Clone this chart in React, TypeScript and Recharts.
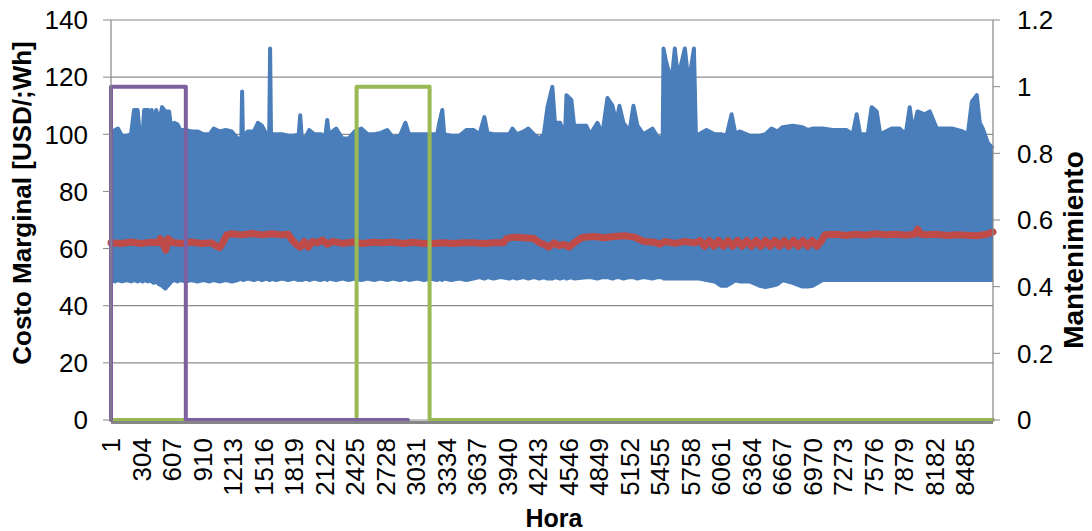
import React from 'react';
import { ComposedChart, Area, Line, XAxis, YAxis, CartesianGrid, Label, ReferenceLine } from 'recharts';

const FONT = '"Liberation Sans", Arial, sans-serif';

// x-axis tick labels (Hora)
const hourTicks = [1, 304, 607, 910, 1213, 1516, 1819, 2122, 2425, 2728, 3031, 3334, 3637, 3940, 4243, 4546, 4849, 5152, 5455, 5758, 6061, 6364, 6667, 6970, 7273, 7576, 7879, 8182, 8485];
const costTicks = [0, 20, 40, 60, 80, 100, 120, 140];
const maintTicks = [0, 0.2, 0.4, 0.6, 0.8, 1, 1.2];

// Blue series (hourly marginal cost) – envelope
const blueHours = [1, 40, 70, 110, 160, 200, 230, 265, 290, 315, 330, 370, 390, 405, 425, 450, 478, 508, 540, 578, 600, 630, 660, 690, 740, 800, 860, 920, 980, 1020, 1080, 1140, 1200, 1260, 1295, 1303, 1311, 1360, 1420, 1460, 1500, 1545, 1572, 1581, 1590, 1640, 1700, 1760, 1820, 1865, 1880, 1895, 1935, 1969, 2020, 2080, 2130, 2148, 2165, 2237, 2300, 2360, 2420, 2486, 2550, 2615, 2680, 2744, 2800, 2870, 2925, 2960, 3040, 3110, 3170, 3240, 3261, 3291, 3310, 3380, 3460, 3530, 3600, 3660, 3709, 3740, 3800, 3870, 3957, 3987, 4030, 4100, 4146, 4200, 4255, 4300, 4335, 4384, 4410, 4460, 4510, 4524, 4573, 4600, 4720, 4760, 4832, 4880, 4931, 4981, 5020, 5050, 5090, 5150, 5189, 5229, 5289, 5378, 5430, 5480, 5488, 5510, 5540, 5575, 5600, 5625, 5660, 5700, 5725, 5760, 5790, 5810, 5826, 5840, 5915, 5995, 6060, 6114, 6164, 6203, 6243, 6343, 6442, 6500, 6561, 6620, 6671, 6770, 6869, 6920, 6969, 7068, 7168, 7307, 7366, 7406, 7440, 7516, 7555, 7605, 7640, 7754, 7834, 7893, 7933, 7965, 8010, 8082, 8132, 8202, 8301, 8361, 8460, 8510, 8550, 8599, 8629, 8659, 8709, 8760];
const blueHigh = [100, 101.5, 102, 99.5, 99.5, 100, 108.5, 108.5, 99, 100, 108.5, 108.5, 101, 108.5, 103.5, 108.5, 104, 109.5, 108, 108, 102, 104, 103.5, 101.5, 101.5, 101, 101, 100, 100, 102, 101, 101.5, 101, 98.5, 98.5, 115, 99, 101, 101, 104, 103, 100, 100, 130, 100, 100, 100, 99.5, 99.5, 100, 106.7, 99, 99, 101.5, 100, 100, 99.5, 105, 100, 102, 98.5, 98.5, 101, 102, 100, 100, 100.5, 101.5, 99, 99.5, 104, 100, 100, 100, 100, 100, 104, 108.5, 100, 99.5, 99.5, 101.5, 101.5, 100, 106, 100.5, 100, 100, 100, 102, 100, 101, 102, 100, 98.5, 100, 109.5, 116.6, 104, 104, 100, 113.7, 112, 103, 103, 100, 104, 100, 112.7, 110, 104, 110, 104, 101, 110, 103, 100, 102, 99, 99, 130, 126, 122, 121, 130, 122, 124, 130, 122, 123, 130, 99, 97, 100, 101.5, 100, 100, 99.5, 107, 100, 101, 99.5, 99.5, 100, 102, 101, 102.5, 103, 102.5, 101.5, 102, 102, 101.5, 101.5, 100, 107, 100, 100, 109.5, 108, 100, 102, 102, 100, 109.5, 101, 108, 107, 108, 102, 102, 102, 101, 100, 111.4, 113.7, 104, 102, 97, 95];
const blueLow = [49, 48.5, 49, 48.5, 49, 48.5, 49, 48.5, 49, 48.5, 49, 48.5, 49, 48.5, 48, 48.5, 47.5, 47, 46, 47.5, 48.5, 49, 48.5, 49, 48.5, 49, 48.5, 49, 48.5, 49, 48.5, 49, 48.5, 49, 49.5, 49.5, 49, 49.5, 49, 49.5, 49, 49.5, 49, 49, 49.5, 49, 49.5, 49, 49.5, 49, 49.5, 49, 49.5, 49, 49.5, 49, 49.5, 49, 49.5, 49, 49.5, 49, 49.5, 49, 49.5, 49, 49.5, 49, 49.5, 49, 49.5, 49, 49.5, 49, 49.5, 49, 49.5, 49, 49.5, 49, 49.5, 49, 49.5, 50, 49.5, 50, 49.5, 50, 49.5, 50, 49.5, 50, 49.5, 50, 49.5, 50, 49.5, 49.5, 50, 49.5, 50, 49.5, 50, 49.5, 50, 50, 49.5, 50, 50, 49.5, 50, 50, 49.5, 50, 50, 49.5, 50, 49.5, 50, 50, 49.5, 49.5, 49.5, 49.5, 49.5, 49.5, 49.5, 49.5, 49.5, 49.5, 49.5, 49.5, 49.5, 49.5, 49, 48.5, 47, 47, 48, 49, 48.5, 48.5, 47, 46.5, 47, 47.5, 49, 48, 46.7, 46.7, 47, 49, 49, 49, 49, 49, 49, 49, 49, 49, 49, 49, 49, 49, 49, 49, 49, 49, 49, 49, 49, 49, 49, 49, 49, 49, 49, 49, 49, 49, 49];

// Red series (average cost)
const redHours = [1, 100, 200, 300, 400, 470, 490, 520, 545, 570, 600, 700, 800, 900, 1000, 1040, 1080, 1110, 1150, 1200, 1300, 1400, 1500, 1600, 1700, 1760, 1800, 1840, 1880, 1920, 1960, 2000, 2050, 2100, 2150, 2200, 2300, 2400, 2500, 2600, 2700, 2800, 2900, 3000, 3100, 3200, 3300, 3400, 3500, 3600, 3700, 3800, 3900, 3930, 4000, 4100, 4200, 4260, 4300, 4350, 4400, 4450, 4500, 4550, 4600, 4660, 4700, 4800, 4900, 5000, 5100, 5200, 5260, 5300, 5400, 5450, 5500, 5600, 5700, 5800, 5850, 5896, 5943, 5989, 6036, 6082, 6129, 6175, 6222, 6268, 6315, 6361, 6408, 6454, 6501, 6547, 6594, 6640, 6687, 6733, 6780, 6826, 6873, 6919, 6966, 7012, 7059, 7090, 7200, 7300, 7400, 7500, 7600, 7700, 7800, 7900, 7980, 8013, 8040, 8100, 8200, 8300, 8400, 8500, 8600, 8700, 8760];
const redValues = [62, 61.8, 62.3, 61.8, 62.2, 62, 63.5, 61.5, 59.5, 63.5, 62.2, 61.8, 62.3, 61.8, 62, 61, 60.3, 62, 64.8, 65.2, 64.8, 65.3, 64.8, 65.2, 64.8, 65, 63, 61.5, 60.5, 62.5, 60.5, 62.5, 62, 63, 61.5, 62.5, 61.8, 62.3, 61.8, 62.2, 62, 62.3, 61.8, 62.2, 61.8, 61.8, 62, 61.8, 62, 62, 61.8, 62, 62, 63.5, 64, 63.8, 63.5, 62, 61.5, 60.5, 62, 61, 61.5, 60.5, 62, 63.5, 64, 64.2, 63.8, 64.2, 64.5, 64, 63, 62.5, 62.2, 61.5, 62.5, 61.8, 62.5, 62, 62.8, 60.8, 62.8, 60.8, 62.8, 60.8, 62.8, 60.8, 62.8, 60.8, 62.8, 60.8, 62.8, 60.8, 62.8, 60.8, 62.8, 60.8, 62.8, 60.8, 62.8, 60.8, 62.8, 60.8, 62.8, 60.8, 62.8, 64.8, 65, 64.6, 65, 64.7, 65.2, 64.8, 65, 64.7, 65, 66.8, 65, 64.8, 65, 64.6, 64.8, 64.7, 64.5, 65, 65.8];

// Maintenance series (0/1)
const purpleHours = [1, 1, 744, 744, 2950];
const purpleValues = [0, 1, 1, 0, 0];
const greenHours = [1, 2440, 2440, 3165, 3165, 8760];
const greenValues = [0, 0, 1, 1, 0, 0];

const blueData = blueHours.map((h, i) => ({ h, r: [blueLow[i], blueHigh[i]] }));
const redData = redHours.map((h, i) => ({ h, v: redValues[i] }));
const purpleData = purpleHours.map((h, i) => ({ h, v: purpleValues[i] }));
const greenData = greenHours.map((h, i) => ({ h, v: greenValues[i] }));

const XTick = (props: any) => {
  const { x, payload } = props;
  return (
    <text x={x} y={438} transform={`rotate(-90 ${x} 438)`} textAnchor="end" dy="0.35em" fontSize={26} fill="#000" fontFamily={FONT}>
      {payload.value}
    </text>
  );
};

export default function App() {
  return (
    <div style={{ position: 'absolute', left: 0, top: 0 }}>
      <ComposedChart width={1092} height={531} margin={{ top: 20, right: 0, bottom: 0, left: 0 }}>
        <CartesianGrid yAxisId="l" vertical={false} stroke="#8c8c8c" strokeWidth={1.2} />
        <XAxis
          dataKey="h"
          type="number"
          domain={[1, 8760]}
          ticks={hourTicks}
          interval={0}
          height={111}
          axisLine={false}
          tickLine={false}
          tick={<XTick />}
          allowDuplicatedCategory={false}
        >
          <Label
            content={() => (
              <text x={554} y={527} textAnchor="middle" fontSize={25} fontWeight="bold" fill="#000" fontFamily={FONT}>
                Hora
              </text>
            )}
          />
        </XAxis>
        <YAxis
          yAxisId="l"
          domain={[0, 140]}
          ticks={costTicks}
          width={111}
          axisLine={{ stroke: '#868686', strokeWidth: 1.2 }}
          tickLine={{ stroke: '#868686' }}
          tickSize={8}
          tickMargin={15}
          tick={{ fontSize: 26, fill: '#000', fontFamily: FONT }}
        >
          <Label
            content={() => (
              <text transform="translate(31 203) rotate(-90)" textAnchor="middle" fontSize={26} fontWeight="bold" fill="#000" fontFamily={FONT}>
                Costo Marginal [USD/;Wh]
              </text>
            )}
          />
        </YAxis>
        <YAxis
          yAxisId="r"
          orientation="right"
          domain={[0, 1.2]}
          ticks={maintTicks}
          width={99}
          axisLine={{ stroke: '#868686', strokeWidth: 1.2 }}
          tickLine={{ stroke: '#868686' }}
          tickSize={7}
          tickMargin={17}
          tick={{ fontSize: 26, fill: '#000', fontFamily: FONT }}
        >
          <Label
            content={() => (
              <text transform="translate(1083 250) rotate(-90)" textAnchor="middle" fontSize={28} fontWeight="bold" fill="#000" fontFamily={FONT}>
                Mantenimiento
              </text>
            )}
          />
        </YAxis>
        <Area
          yAxisId="l"
          data={blueData}
          dataKey="r"
          type="linear"
          stroke="#4A7EBB"
          strokeWidth={4}
          strokeLinejoin="round"
          fill="#4A7EBB"
          fillOpacity={1}
          isAnimationActive={false}
          dot={false}
          activeDot={false}
        />
        <Line
          yAxisId="l"
          data={redData}
          dataKey="v"
          type="linear"
          stroke="#BE4B48"
          strokeWidth={7}
          strokeLinejoin="round"
          strokeLinecap="round"
          dot={false}
          activeDot={false}
          isAnimationActive={false}
        />
        <Line
          yAxisId="r"
          data={greenData}
          dataKey="v"
          type="linear"
          stroke="#98B954"
          strokeWidth={4}
          strokeLinejoin="round"
          strokeLinecap="round"
          dot={false}
          activeDot={false}
          isAnimationActive={false}
        />
        <Line
          yAxisId="r"
          data={purpleData}
          dataKey="v"
          type="linear"
          stroke="#7D60A0"
          strokeWidth={4}
          strokeLinejoin="round"
          strokeLinecap="round"
          dot={false}
          activeDot={false}
          isAnimationActive={false}
        />
        <ReferenceLine yAxisId="l" y={-0.9} ifOverflow="visible" stroke="#868686" strokeWidth={3} />
      </ComposedChart>
    </div>
  );
}
